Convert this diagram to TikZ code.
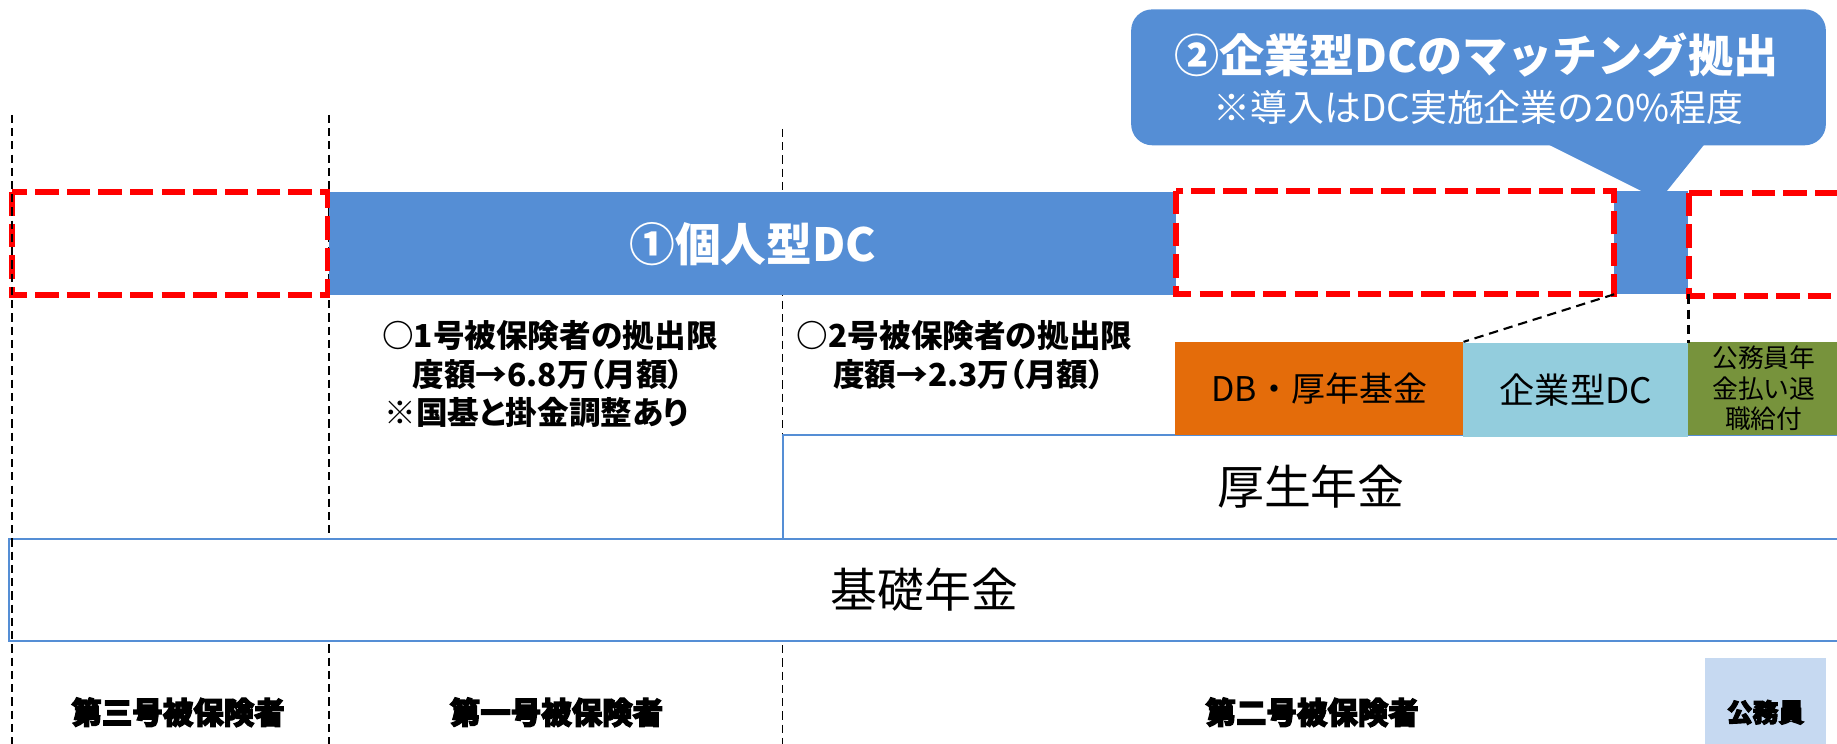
\documentclass[tikz,border=0pt]{standalone}
\usepackage{fontspec}
\setmainfont{Noto Sans CJK JP}
\newfontfamily\jpheavy{Noto Sans CJK JP}[UprightFeatures={FakeBold=4}, BoldFeatures={FakeBold=4}]
\newfontfamily\jppalt{Noto Sans CJK JP}[RawFeature=+palt]
\newcommand\jfs[1]{\fontsize{#1}{#1}\selectfont}
\definecolor{dcblue}{RGB}{85,142,213}
\definecolor{outblue}{RGB}{85,142,213}
\definecolor{dborange}{RGB}{228,108,10}
\definecolor{corpblue}{RGB}{147,205,221}
\definecolor{pubgreen}{RGB}{119,147,60}
\definecolor{pubbox}{RGB}{198,217,241}
\begin{document}
\begin{tikzpicture}[x=1pt,y=-1pt,
  vline/.style={draw=black, line width=1.4pt, dash pattern=on 7pt off 4.3pt},
  cdash/.style={draw=black, line width=1.8pt, dash pattern=on 8pt off 5pt},
  redbox/.style={draw=red, line width=5pt, dash pattern=on 20pt off 7pt},
  solidbox/.style={draw=none, inner sep=0pt},
  outlbox/.style={draw=outblue, line width=1.7pt, fill=white, inner sep=0pt},
  notetxt/.style={anchor=base west, inner sep=0pt, font=\bfseries\jfs{27}},
  notetxtp/.style={anchor=base west, inner sep=0pt, font=\jppalt\bfseries\jfs{27}},
  heavytxt/.style={inner sep=0pt, font=\jpheavy\bfseries\jfs{26}}
]
\useasboundingbox (0,0) rectangle (1568,635);

% dashed group separators (behind the boxes)
\coordinate (v2t) at (281,98);  \coordinate (v2b) at (281,640);
\coordinate (v3t) at (668,110); \coordinate (v3b) at (668,640);
\draw[vline] (v2t) -- (v2b);
\draw[vline] (v3t) -- (v3b);

% top bar
\node[solidbox, fill=dcblue, minimum width=723pt, minimum height=88pt,
      text=white, font=\bfseries\jfs{39}] (idc) at (642.5,208) {①個人型DC};
\node[solidbox, fill=dcblue, minimum width=63pt, minimum height=88pt] (sdc) at (1409.5,207) {};
\draw[redbox] (10,164) rectangle (279.5,252);
\draw[redbox] (1004,163) rectangle (1378,251);
\draw[redbox] (1442,164.5) rectangle (1620,252.5);

% callout
\node[solidbox, fill=dcblue, rounded corners=18pt, minimum width=593pt, minimum height=116pt] (callout) at (1262,66) {};
\fill[dcblue] (1311,118) -- (1403,164) -- (1422,164) -- (1459,118) -- cycle;
\node[inner sep=0pt, text=white, font=\bfseries\jfs{38.5}] (ct1) at (1260,47) {②企業型DCのマッチング拠出};
\node[inner sep=0pt, text=white, font=\jfs{31.5}] (ct2) at (1262,92) {※導入はDC実施企業の20\%程度};

% notes
\node[notetxt] (n1a) at (326,297) {○1号被保険者の拠出限};
\node[notetxtp] (n1b) at (352,330) {度額→6.8万（月額）};
\node[notetxtp] (n1c) at (328,362) {※国基と掛金調整あり};
\node[notetxt] (n2a) at (680,297) {○2号被保険者の拠出限};
\node[notetxtp] (n2b) at (711,330) {度額→2.3万（月額）};

% pension layers
\node[outlbox, minimum width=902pt, minimum height=89pt, font=\jfs{40}] (kousei) at (1119,415.5) {厚生年金};
\node[outlbox, minimum width=1562pt, minimum height=87pt, font=\jfs{40}] (kiso) at (789,503.5) {基礎年金};
\node[solidbox, fill=dborange, minimum width=246pt, minimum height=79pt, font=\jfs{29}] (db) at (1126,331.5) {DB・厚年基金};
\node[solidbox, fill=corpblue, minimum width=192pt, minimum height=80pt, font=\jfs{30}] (corp) at (1345,333) {企業型DC};
\node[solidbox, fill=pubgreen, minimum width=129pt, minimum height=79pt, align=center,
      font=\fontsize{22}{26}\selectfont] (pub) at (1505.5,331.5) {公務員年\\金払い退\\職給付};

% connectors
\draw[cdash] (sdc.south west) -- (db.north east);
\draw[cdash] (sdc.south east) -- (corp.north east);

% bottom labels
\node[heavytxt] (l3) at (152,608) {第三号被保険者};
\node[heavytxt] (l1) at (475,608) {第一号被保険者};
\node[heavytxt] (l2) at (1120,608) {第二号被保険者};
\node[solidbox, fill=pubbox, minimum width=104pt, minimum height=92pt,
      font=\jpheavy\bfseries\jfs{22}] (kbox) at (1507,608) {公務員};

% leftmost separator on top
\coordinate (v1t) at (10,98); \coordinate (v1b) at (10,640);
\draw[vline] (v1t) -- (v1b);
\end{tikzpicture}
\end{document}
